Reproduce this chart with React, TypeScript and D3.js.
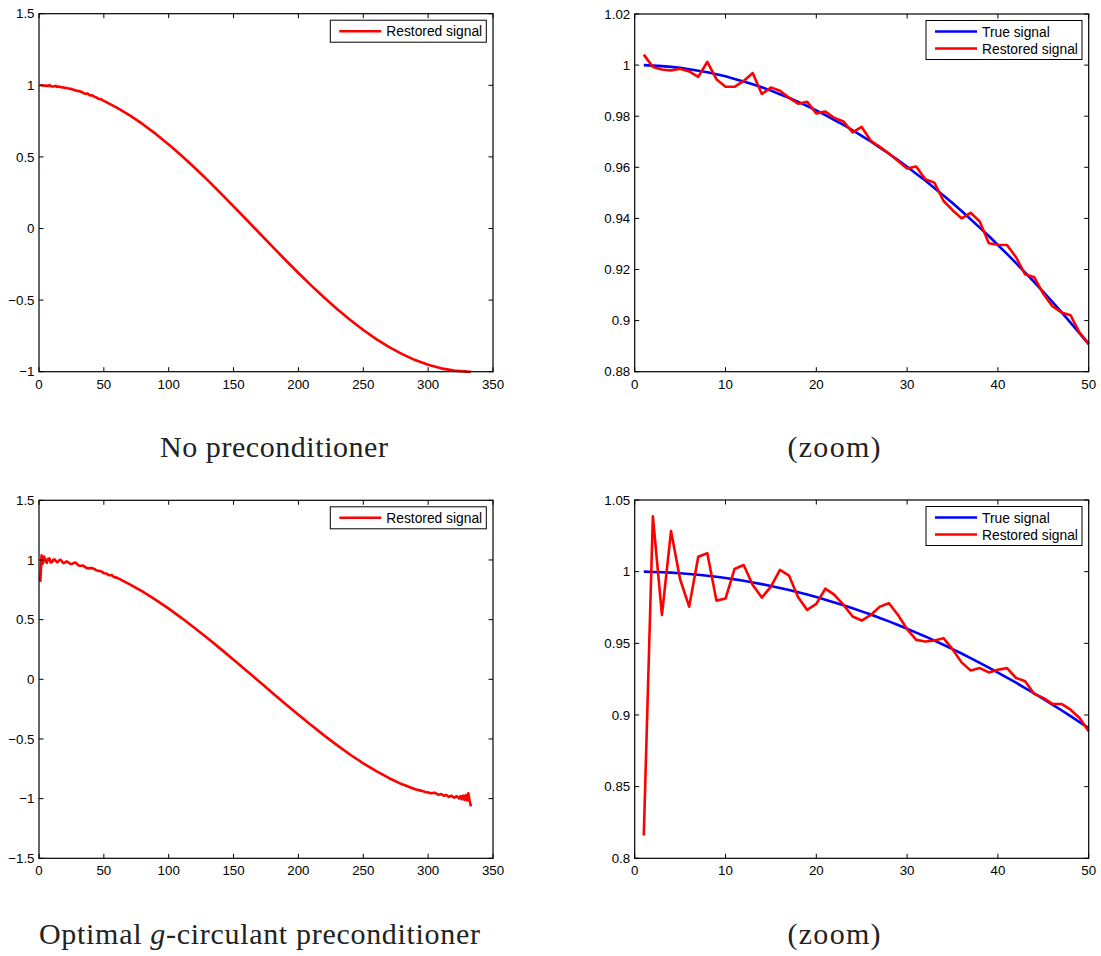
import React from 'react';
import * as d3 from 'd3';

// ---------- data ----------
const zoomIndex = d3.range(1, 51);

const trueSignal = [
  1.0, 0.9998, 0.9996, 0.9993, 0.9989, 0.9984, 0.9978, 0.9972, 0.9964, 0.9956,
  0.9946, 0.9936, 0.9925, 0.9913, 0.99, 0.9886, 0.9872, 0.9856, 0.984, 0.9823,
  0.9804, 0.9785, 0.9766, 0.9745, 0.9723, 0.9701, 0.9677, 0.9653, 0.9628, 0.9602,
  0.9575, 0.9548, 0.9519, 0.949, 0.946, 0.9429, 0.9397, 0.9364, 0.9331, 0.9296,
  0.9261, 0.9225, 0.9188, 0.9151, 0.9112, 0.9073, 0.9033, 0.8992, 0.895, 0.8908,
];

const restoredNoPrec = [
  1.0041, 0.9993, 0.9983, 0.9979, 0.9986, 0.9975, 0.9954, 1.0013, 0.9945, 0.9915,
  0.9915, 0.9938, 0.9969, 0.9887, 0.9912, 0.99, 0.9872, 0.9849, 0.9856, 0.9811,
  0.9818, 0.9793, 0.9779, 0.9737, 0.9758, 0.9704, 0.968, 0.9654, 0.9625, 0.9595,
  0.9603, 0.9553, 0.954, 0.9469, 0.9432, 0.94, 0.9422, 0.9388, 0.9303, 0.9297,
  0.9296, 0.9248, 0.9181, 0.917, 0.9105, 0.9056, 0.9032, 0.9021, 0.8952, 0.891,
];

const restoredGCirc = [
  0.8159, 1.0387, 0.9698, 1.0283, 0.9947, 0.9756, 1.0104, 1.0128, 0.9798, 0.9812,
  1.0019, 1.0046, 0.9907, 0.9819, 0.9896, 1.0012, 0.9972, 0.9821, 0.9733, 0.9775,
  0.9882, 0.9838, 0.9768, 0.9687, 0.9659, 0.9698, 0.9756, 0.978, 0.9698, 0.9599,
  0.9524, 0.9513, 0.952, 0.9536, 0.9459, 0.9367, 0.9311, 0.9327, 0.9297, 0.9316,
  0.9327, 0.9258, 0.9235, 0.9147, 0.9119, 0.9077, 0.9077, 0.9037, 0.8979, 0.8886,
];

const noPrecFarX = [60, 70, 80, 90, 100, 110, 120, 130, 140, 150, 160, 170, 180, 190, 200,
  210, 220, 230, 240, 250, 260, 270, 280, 290, 300, 310, 320, 330, 333];
const noPrecFarY = [0.844, 0.7897, 0.7285, 0.6607, 0.5872, 0.5081, 0.4241, 0.3377, 0.2475,
  0.155, 0.0613, -0.033, -0.1271, -0.2199, -0.3109, -0.399, -0.4836, -0.5639, -0.6391,
  -0.7087, -0.7721, -0.8285, -0.8776, -0.9189, -0.9519, -0.9766, -0.9925, -0.9996, -1.0];

const gCircFarX = [52, 54, 56, 58, 60, 70, 80, 90, 100, 110, 120, 130, 140, 150, 160, 170,
  180, 190, 200, 210, 220, 230, 240, 250, 260, 270, 280, 290, 295, 298, 300, 302, 305, 308,
  310, 312, 314, 316, 318, 320, 322, 324, 325, 326, 327, 328, 329, 330, 331, 332, 333];
const gCircFarY = [0.886, 0.872, 0.874, 0.856, 0.852, 0.795, 0.734, 0.666, 0.592, 0.513,
  0.43, 0.344, 0.255, 0.164, 0.072, -0.021, -0.114, -0.206, -0.297, -0.386, -0.472, -0.554,
  -0.632, -0.704, -0.77, -0.829, -0.88, -0.921, -0.935, -0.945, -0.948, -0.955, -0.95,
  -0.968, -0.962, -0.975, -0.97, -0.985, -0.975, -0.992, -0.98, -1.0, -0.978, -1.005,
  -0.975, -1.01, -0.97, -1.015, -0.955, -1.02, -1.065];

const xTicksFull = [0, 50, 100, 150, 200, 250, 300, 350];
const xTicksZoom = [0, 10, 20, 30, 40, 50];
const yTicksTL = [-1, -0.5, 0, 0.5, 1, 1.5];
const yTicksTR = [0.88, 0.9, 0.92, 0.94, 0.96, 0.98, 1, 1.02];
const yTicksBL = [-1.5, -1, -0.5, 0, 0.5, 1, 1.5];
const yTicksBR = [0.8, 0.85, 0.9, 0.95, 1, 1.05];

const legendTrue = 'True signal';
const legendRestored = 'Restored signal';

// ---------- drawing ----------
type Series = { xs: number[]; ys: number[]; color: string };
type PanelProps = {
  left: number; right: number; top: number; bottom: number;
  xDomain: [number, number]; yDomain: [number, number];
  xTicks: number[]; yTicks: number[];
  series: Series[];
  legend: { label: string; color: string }[];
};

const tickFont = '"Liberation Sans", Arial, Helvetica, sans-serif';
const fmt = (v: number) => String(v).replace('-', '\u2212');

function Panel(p: PanelProps) {
  const x = d3.scaleLinear().domain(p.xDomain).range([p.left, p.right]);
  const y = d3.scaleLinear().domain(p.yDomain).range([p.bottom, p.top]);
  const line = d3.line<[number, number]>().x(d => x(d[0])).y(d => y(d[1]));
  const tl = 4.5;
  const boxW = 156;
  const boxH = p.legend.length === 1 ? 22 : 39;
  const bx = p.right - 162.7;
  const by = p.top + 6.5;
  return (
    <g>
      <defs>
        <clipPath id={`clip-${p.left}-${p.top}`}>
          <rect x={p.left} y={p.top - 3} width={p.right - p.left + 2} height={p.bottom - p.top + 6} />
        </clipPath>
      </defs>
      {p.series.map((s, i) => (
        <path key={i} d={line(s.xs.map((v, j) => [v, s.ys[j]]) as [number, number][]) || ''}
          fill="none" stroke={s.color} strokeWidth={2.6} strokeLinejoin="round"
          clipPath={`url(#clip-${p.left}-${p.top})`} />
      ))}
      <rect x={p.left} y={p.top} width={p.right - p.left} height={p.bottom - p.top}
        fill="none" stroke="#000" strokeWidth={1.2} />
      {p.xTicks.map(t => (
        <g key={'x' + t}>
          <line x1={x(t)} x2={x(t)} y1={p.bottom} y2={p.bottom - tl} stroke="#000" strokeWidth={1} />
          <line x1={x(t)} x2={x(t)} y1={p.top} y2={p.top + tl} stroke="#000" strokeWidth={1} />
          <text x={x(t)} y={p.bottom + 17} textAnchor="middle" fontFamily={tickFont} fontSize={13.3} fill="#000">{fmt(t)}</text>
        </g>
      ))}
      {p.yTicks.map(t => (
        <g key={'y' + t}>
          <line x1={p.left} x2={p.left + tl} y1={y(t)} y2={y(t)} stroke="#000" strokeWidth={1} />
          <line x1={p.right} x2={p.right - tl} y1={y(t)} y2={y(t)} stroke="#000" strokeWidth={1} />
          <text x={p.left - 4.5} y={y(t) + 4.7} textAnchor="end" fontFamily={tickFont} fontSize={13.3} fill="#000">{fmt(t)}</text>
        </g>
      ))}
      <rect x={bx} y={by} width={boxW} height={boxH} fill="#fff" stroke="#000" strokeWidth={1} />
      {p.legend.map((l, i) => {
        const ry = by + 11 + i * 17;
        return (
          <g key={l.label}>
            <line x1={bx + 9} x2={bx + 51} y1={ry} y2={ry} stroke={l.color} strokeWidth={2.6} />
            <text x={bx + 56} y={ry + 5} fontFamily={tickFont} fontSize={13.8} fill="#000">{l.label}</text>
          </g>
        );
      })}
    </g>
  );
}

const captionFont = '"Liberation Serif", "Times New Roman", serif';

export default function App() {
  const farTopX = zoomIndex.concat(noPrecFarX);
  const farTopY = restoredNoPrec.concat(noPrecFarY);
  const farBotX = zoomIndex.concat(gCircFarX);
  const farBotY = restoredGCirc.concat(gCircFarY);
  return (
    <div style={{ position: 'absolute', left: 0, top: 0 }}>
      <svg width={1101} height={956} style={{ display: 'block', background: '#fff' }}>
        <Panel left={39} right={493} top={13.7} bottom={371.7} xDomain={[0, 350]} yDomain={[-1, 1.5]}
          xTicks={xTicksFull} yTicks={yTicksTL}
          series={[{ xs: farTopX, ys: farTopY, color: '#ff0000' }]}
          legend={[{ label: legendRestored, color: '#ff0000' }]} />
        <Panel left={634.7} right={1088.7} top={14} bottom={371.7} xDomain={[0, 50]} yDomain={[0.88, 1.02]}
          xTicks={xTicksZoom} yTicks={yTicksTR}
          series={[{ xs: zoomIndex, ys: trueSignal, color: '#0000ff' }, { xs: zoomIndex, ys: restoredNoPrec, color: '#ff0000' }]}
          legend={[{ label: legendTrue, color: '#0000ff' }, { label: legendRestored, color: '#ff0000' }]} />
        <Panel left={39} right={493} top={500.3} bottom={858.3} xDomain={[0, 350]} yDomain={[-1.5, 1.5]}
          xTicks={xTicksFull} yTicks={yTicksBL}
          series={[{ xs: farBotX, ys: farBotY, color: '#ff0000' }]}
          legend={[{ label: legendRestored, color: '#ff0000' }]} />
        <Panel left={634.7} right={1088.7} top={500} bottom={858.3} xDomain={[0, 50]} yDomain={[0.8, 1.05]}
          xTicks={xTicksZoom} yTicks={yTicksBR}
          series={[{ xs: zoomIndex, ys: trueSignal, color: '#0000ff' }, { xs: zoomIndex, ys: restoredGCirc, color: '#ff0000' }]}
          legend={[{ label: legendTrue, color: '#0000ff' }, { label: legendRestored, color: '#ff0000' }]} />

        <text x={274} y={457} textAnchor="middle" fontFamily={captionFont} fontSize={30} fill="#222"
          textLength={228} lengthAdjust="spacing">No preconditioner</text>
        <text x={834} y={457} textAnchor="middle" fontFamily={captionFont} fontSize={30} fill="#222"
          textLength={93} lengthAdjust="spacing">(zoom)</text>
        <text x={259.5} y={944} textAnchor="middle" fontFamily={captionFont} fontSize={30} fill="#222"
          textLength={441} lengthAdjust="spacing">Optimal <tspan fontStyle="italic">g</tspan>-circulant preconditioner</text>
        <text x={834} y={944} textAnchor="middle" fontFamily={captionFont} fontSize={30} fill="#222"
          textLength={93} lengthAdjust="spacing">(zoom)</text>
      </svg>
    </div>
  );
}
